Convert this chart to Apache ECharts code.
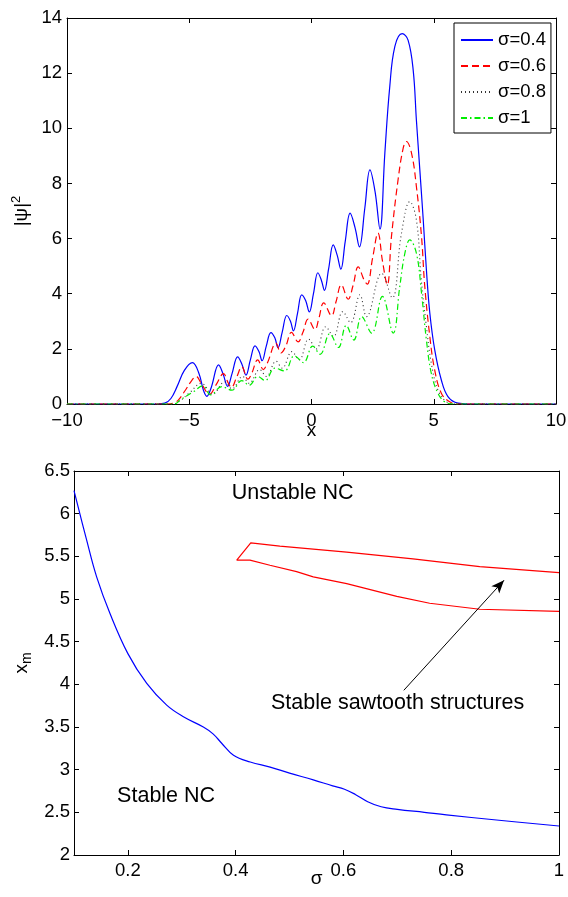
<!DOCTYPE html>
<html><head><meta charset="utf-8">
<script src="https://cdn.jsdelivr.net/npm/echarts@6/dist/echarts.min.js"></script>
<style>html,body{margin:0;padding:0;background:#fff}#c{width:568px;height:897px}</style>
</head><body><div id="c"></div>
<script>
// ---------- data (top panel: |psi|^2 vs x) ----------
const seriesNames = ['σ=0.4', 'σ=0.6', 'σ=0.8', 'σ=1'];
const sigma04 = [[-10,0],[-6.3,0],[-6.0,0.03],[-5.75,0.2],[-5.5,0.63],[-5.2,1.22],[-4.87,1.5],[-4.6,1.1],[-4.42,0.5],[-4.28,0.28],[-4.1,0.6],[-3.8,1.42],[-3.62,1.1],[-3.43,0.64],[-3.25,1.1],[-3.02,1.71],[-2.85,1.45],[-2.68,1.05],[-2.5,1.6],[-2.31,2.11],[-2.15,1.9],[-2.02,1.57],[-1.85,2.1],[-1.66,2.59],[-1.5,2.4],[-1.37,2.04],[-1.2,2.6],[-1.01,3.21],[-0.86,3.0],[-0.74,2.65],[-0.57,3.3],[-0.4,3.96],[-0.24,3.75],[-0.09,3.34],[0.08,4.0],[0.26,4.76],[0.4,4.5],[0.53,4.12],[0.7,4.9],[0.89,5.77],[1.05,5.4],[1.2,4.89],[1.38,5.9],[1.58,6.92],[1.78,6.4],[1.96,5.7],[2.18,7.1],[2.39,8.49],[2.6,7.7],[2.8,6.34],[3.0,9.1],[3.2,11.5],[3.41,12.97],[3.71,13.43],[3.95,13.2],[4.16,12.1],[4.29,10.3],[4.43,8.5],[4.57,6.68],[4.7,4.86],[4.84,3.29],[5.04,1.96],[5.31,0.87],[5.58,0.27],[5.99,0.03],[6.4,0],[10,0]];
const sigma06 = [[-10,0],[-5.9,0],[-5.6,0.05],[-5.44,0.15],[-5.16,0.5],[-4.9,0.85],[-4.72,1.0],[-4.48,0.7],[-4.17,0.35],[-3.9,0.7],[-3.6,1.1],[-3.4,0.75],[-3.28,0.6],[-3.05,1.0],[-2.85,1.35],[-2.6,0.9],[-2.45,1.1],[-2.2,1.6],[-1.97,1.25],[-1.8,1.5],[-1.45,2.2],[-1.25,1.85],[-1.05,2.1],[-0.82,2.6],[-0.55,2.25],[-0.35,2.6],[-0.14,3.08],[0.14,2.7],[0.3,3.1],[0.5,3.67],[0.82,3.2],[1.0,3.7],[1.22,4.32],[1.5,3.8],[1.7,4.3],[1.91,4.97],[2.15,4.5],[2.28,4.35],[2.5,5.3],[2.72,6.2],[2.9,5.2],[3.1,4.32],[3.27,6.07],[3.54,8.13],[3.75,9.28],[3.88,9.52],[4.09,9.1],[4.29,7.89],[4.5,6.07],[4.63,4.3],[4.84,2.44],[5.04,1.23],[5.31,0.39],[5.65,0.08],[6.0,0],[10,0]];
const sigma08 = [[-10,0],[-5.7,0],[-5.4,0.1],[-5.0,0.4],[-4.5,0.75],[-4.05,0.35],[-3.55,0.8],[-3.25,0.55],[-2.82,1.0],[-2.55,0.75],[-2.12,1.25],[-1.85,1.0],[-1.45,1.55],[-1.2,1.3],[-0.8,1.9],[-0.5,1.6],[-0.12,2.35],[0.2,2.0],[0.58,2.8],[0.9,2.45],[1.28,3.35],[1.6,2.95],[1.98,3.96],[2.25,3.17],[2.87,4.74],[3.3,3.85],[3.68,6.19],[4.02,7.34],[4.29,6.68],[4.49,4.5],[4.7,2.81],[4.9,1.48],[5.17,0.51],[5.52,0.08],[5.9,0],[10,0]];
const sigma10 = [[-10,0],[-5.6,0],[-5.37,0.15],[-4.82,0.45],[-4.45,0.66],[-4.12,0.33],[-3.67,0.63],[-3.26,0.5],[-2.85,0.85],[-2.55,0.68],[-2.2,1.0],[-1.9,0.85],[-1.5,1.3],[-1.1,1.2],[-0.7,1.75],[-0.33,1.5],[0.05,2.1],[0.35,1.8],[0.75,2.55],[1.1,2.05],[1.42,2.85],[1.73,2.32],[2.05,3.17],[2.46,2.57],[2.9,3.9],[3.34,2.57],[3.61,4.26],[3.82,5.47],[4.02,5.95],[4.29,5.47],[4.5,4.02],[4.7,2.32],[4.9,1.11],[5.17,0.39],[5.45,0.08],[5.8,0],[10,0]];

// ---------- data (bottom panel: x_m vs sigma) ----------
const ncBoundary = [[0.1,6.27],[0.1235,5.69],[0.142,5.26],[0.1668,4.83],[0.2,4.36],[0.235,4.01],[0.272,3.756],[0.303,3.62],[0.34,3.5],[0.358,3.42],[0.374,3.31],[0.396,3.17],[0.427,3.09],[0.464,3.03],[0.5,2.96],[0.544,2.88],[0.58,2.81],[0.602,2.77],[0.622,2.71],[0.645,2.625],[0.67,2.565],[0.7,2.535],[0.75,2.5],[0.791,2.47],[0.884,2.41],[1.0,2.34]];
const sawtoothRegion = [[1.0,5.31],[0.853,5.38],[0.729,5.47],[0.606,5.55],[0.482,5.62],[0.428,5.657],[0.402,5.455],[0.4265,5.455],[0.4636,5.396],[0.513,5.32],[0.544,5.26],[0.606,5.18],[0.699,5.03],[0.76,4.95],[0.853,4.88],[1.0,4.855]];
const sigmaTicks = [0.2, 0.4, 0.6, 0.8, 1];
const arrowFrom = [0.712, 3.93];
const arrowTo = [0.898, 5.22];
const annotations = [
  {text: 'Unstable NC', at: [0.3926, 6.24]},
  {text: 'Stable NC', at: [0.18, 2.69]},
  {text: 'Stable sawtooth structures', at: [0.4655, 3.78]}
];

const FONT = '"Liberation Sans", Arial, Helvetica, sans-serif';
const TICK_FS = 18.5;

function axis(o) {
  return Object.assign({
    type: 'value',
    nameMoveOverlap: false,
    axisLine: {show: true, onZero: false, lineStyle: {color: '#000', width: 1}},
    axisTick: {show: true, inside: true, length: 5, lineStyle: {color: '#000', width: 1}},
    splitLine: {show: false},
    axisLabel: {color: '#000', fontSize: TICK_FS, fontFamily: FONT},
    nameTextStyle: {color: '#000', fontSize: 19, fontFamily: FONT}
  }, o);
}
const minusFmt = v => v < 0 ? '\u2212' + Math.abs(v) : String(v);

const chart = echarts.init(document.getElementById('c'));
const option = {
  animation: false,
  backgroundColor: '#fff',
  grid: [
    {left: 67, right: 12, top: 18, height: 386, outerBoundsMode: 'none', containLabel: false},
    {left: 74, right: 9, top: 471, height: 384, outerBoundsMode: 'none', containLabel: false}
  ],
  xAxis: [
    axis({gridIndex: 0, min: -10, max: 10, interval: 5, name: 'x', nameLocation: 'middle', nameGap: 17,
      axisLabel: {color: '#000', fontSize: TICK_FS, fontFamily: FONT, margin: 7, formatter: minusFmt}}),
    axis({gridIndex: 0, min: -10, max: 10, interval: 5, position: 'top', axisLabel: {show: false}}),
    axis({gridIndex: 1, min: 0.1, max: 1, name: 'σ', nameLocation: 'middle', nameGap: 14,
      axisLabel: {color: '#000', fontSize: TICK_FS, fontFamily: FONT, margin: 6, customValues: sigmaTicks},
      axisTick: {show: true, inside: true, length: 5, customValues: sigmaTicks, lineStyle: {color: '#000'}}}),
    axis({gridIndex: 1, min: 0.1, max: 1, position: 'top', axisLabel: {show: false},
      axisTick: {show: true, inside: true, length: 5, customValues: sigmaTicks, lineStyle: {color: '#000'}}})
  ],
  yAxis: [
    axis({gridIndex: 0, min: 0, max: 14, interval: 2, name: '|ψ|{sup|2}', nameLocation: 'middle', nameGap: 33,
      axisLabel: {color: '#000', fontSize: TICK_FS, fontFamily: FONT, margin: 5},
      nameTextStyle: {color: '#000', fontSize: 19, fontFamily: FONT,
        rich: {sup: {fontSize: 13, fontFamily: FONT, color: '#000', padding: [0, 0, 11, 0]}}}}),
    axis({gridIndex: 0, min: 0, max: 14, interval: 2, position: 'right', axisLabel: {show: false}}),
    axis({gridIndex: 1, min: 2, max: 6.5, interval: 0.5, name: 'x{sub|m}', nameLocation: 'middle', nameGap: 40,
      axisLabel: {color: '#000', fontSize: TICK_FS, fontFamily: FONT, margin: 4},
      nameTextStyle: {color: '#000', fontSize: 19, fontFamily: FONT,
        rich: {sub: {fontSize: 14, fontFamily: FONT, color: '#000', padding: [10, 0, 0, 0]}}}}),
    axis({gridIndex: 1, min: 2, max: 6.5, interval: 0.5, position: 'right', axisLabel: {show: false}})
  ],
  legend: {
    orient: 'vertical', left: 454, top: 23, padding: [7, 5, 5, 6], itemGap: 6, itemWidth: 32, itemHeight: 20,
    backgroundColor: '#fff', borderColor: '#000', borderWidth: 1, borderRadius: 0,
    itemStyle: {opacity: 0},
    textStyle: {fontSize: 18.5, color: '#000', fontFamily: FONT, lineHeight: 20},
    data: seriesNames
  },
  series: [
    {type: 'line', name: seriesNames[0], xAxisIndex: 0, yAxisIndex: 0, data: sigma04, smooth: 0.4, symbol: 'none',
      lineStyle: {color: '#0000ff', width: 1.2, type: 'solid'}, itemStyle: {color: '#0000ff'}},
    {type: 'line', name: seriesNames[1], xAxisIndex: 0, yAxisIndex: 0, data: sigma06, smooth: 0.4, symbol: 'none',
      lineStyle: {color: '#ff0000', width: 1.2, type: [7, 4]}, itemStyle: {color: '#ff0000'}},
    {type: 'line', name: seriesNames[2], xAxisIndex: 0, yAxisIndex: 0, data: sigma08, smooth: 0.4, symbol: 'none',
      lineStyle: {color: '#333333', width: 1.1, type: [1, 3]}, itemStyle: {color: '#333333'}},
    {type: 'line', name: seriesNames[3], xAxisIndex: 0, yAxisIndex: 0, data: sigma10, smooth: 0.4, symbol: 'none',
      lineStyle: {color: '#00ee00', width: 1.2, type: [6, 3, 1.5, 3]}, itemStyle: {color: '#00ee00'}},
    {type: 'line', name: 'boundary', xAxisIndex: 2, yAxisIndex: 2, data: ncBoundary, smooth: 0.4, symbol: 'none',
      lineStyle: {color: '#0000ff', width: 1.2}},
    {type: 'line', name: 'sawtooth', xAxisIndex: 2, yAxisIndex: 2, data: sawtoothRegion, smooth: false, symbol: 'none',
      lineStyle: {color: '#ff0000', width: 1.2},
      markLine: {silent: true, animation: false, symbol: ['none', 'arrow'], symbolSize: [8, 13],
        lineStyle: {color: '#000', width: 1, type: 'solid'}, label: {show: false},
        emphasis: {disabled: true},
        data: [[{coord: arrowFrom}, {coord: arrowTo}]]}}
  ]
};
chart.setOption(option);

const texts = annotations.map(a => {
  const p = chart.convertToPixel({xAxisIndex: 2, yAxisIndex: 2}, a.at);
  return {type: 'text', x: p[0], y: p[1], silent: true,
    style: {text: a.text, fill: '#000', fontSize: 21.5, fontFamily: FONT, align: 'left', verticalAlign: 'middle'}};
});
chart.setOption({graphic: texts});
</script>
</body></html>
